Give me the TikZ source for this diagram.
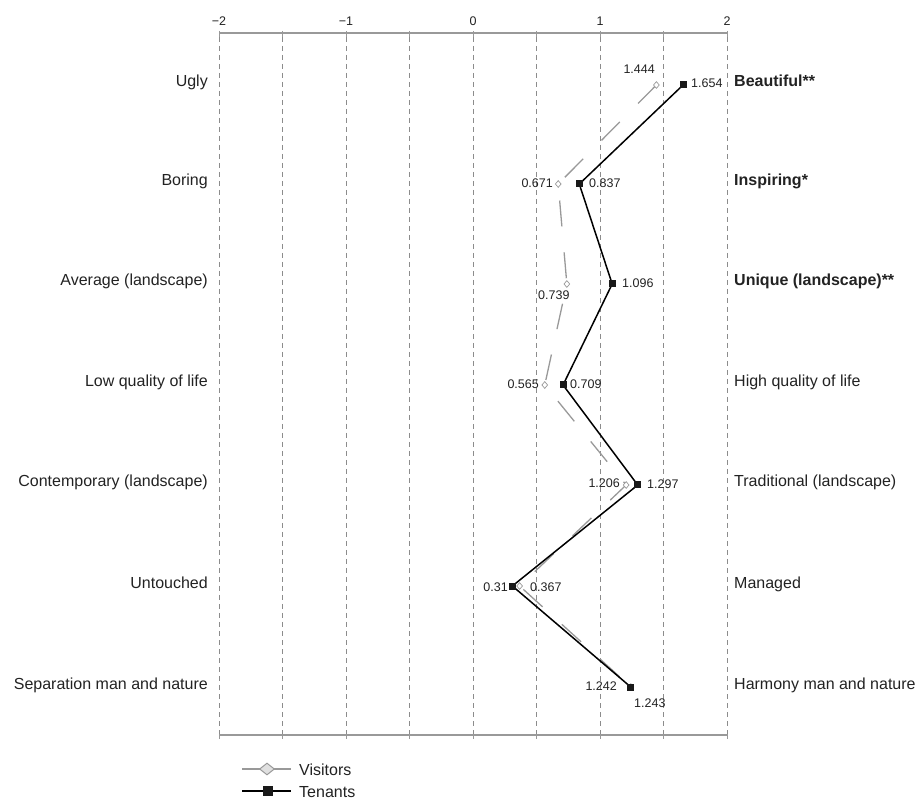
\documentclass[tikz,border=0pt]{standalone}
\usepackage{fontspec}
\setmainfont{Liberation Sans}
\usetikzlibrary{shapes.geometric}
\definecolor{txt}{HTML}{222222}
\definecolor{vis}{HTML}{999999}
\definecolor{grid}{HTML}{8C8C8C}
\begin{document}
\begin{tikzpicture}[x=1pt,y=-1pt,
  lab/.style={inner sep=0pt,text=txt,font=\fontsize{16}{19}\selectfont},
  blab/.style={lab,font=\fontsize{16}{19}\selectfont\bfseries},
  num/.style={inner sep=0pt,text=txt,font=\fontsize{12.5}{15}\selectfont},
  gridline/.style={draw=grid,line width=0.8pt,dash pattern=on 5pt off 4pt},
  axisline/.style={draw=vis,line width=1.1pt},
  visline/.style={draw=vis,line width=1.3pt,dash pattern=on 26pt off 26pt},
  tenline/.style={draw=black,line width=1.5pt},
  vmark/.style={diamond,draw=vis,fill=white,line width=0.7pt,inner sep=0pt,minimum width=6pt,minimum height=7pt},
  tmark/.style={rectangle,fill=black!90,inner sep=0pt,minimum size=7pt},
]
\useasboundingbox (0,0) rectangle (919,799);
% grid and axes
\foreach \i in {0,...,8}{
  \draw[gridline] ({219+63.5*\i},37) -- ({219+63.5*\i},734);
  \draw[axisline,line width=0.8pt] ({219+63.5*\i},31) -- ({219+63.5*\i},37);
  \draw[axisline,line width=0.8pt] ({219+63.5*\i},734) -- ({219+63.5*\i},739);
}
\draw[axisline] (219,33) -- (727,33);
\draw[axisline] (219,735) -- (727,735);
\foreach \v/\t in {-2/−2,-1/−1,0/0,1/1,2/2}
  \node[num,anchor=base] at ({473+127*\v},26) {\t};
% data coordinates
\foreach \k/\y/\tv/\vv in {1/85/1.654/1.444,2/184/0.837/0.671,3/284/1.096/0.739,4/385/0.709/0.565,5/485/1.297/1.206,6/586/0.31/0.367,7/687/1.242/1.243}{
  \coordinate (t\k) at ({473+127*\tv},\y);
  \coordinate (v\k) at ({473+127*\vv},\y);
}
% visitors
\draw[visline] (v1) -- (v2) -- (v3) -- (v4) -- (v5) -- (v6) -- (v7);
\foreach \k in {1,...,7} \node[vmark] (vm\k) at (v\k) {};
% tenants
\draw[tenline] (t1) -- (t2) -- (t3) -- (t4) -- (t5) -- (t6) -- (t7);
\foreach \k in {1,...,7} \node[tmark] (tm\k) at (t\k) {};
% left labels
\node[lab,anchor=base east] (l1) at (208,87) {Ugly};
\node[lab,anchor=base east] (l2) at (208,186) {Boring};
\node[lab,anchor=base east] (l3) at (208,286) {Average (landscape)};
\node[lab,anchor=base east] (l4) at (208,387) {Low quality of life};
\node[lab,anchor=base east] (l5) at (208,487) {Contemporary (landscape)};
\node[lab,anchor=base east] (l6) at (208,588) {Untouched};
\node[lab,anchor=base east] (l7) at (208,689) {Separation man and nature};
% right labels
\node[blab,anchor=base west] (r1) at (734,87) {Beautiful**};
\node[blab,anchor=base west] (r2) at (734,186) {Inspiring*};
\node[blab,anchor=base west] (r3) at (734,286) {Unique (landscape)**};
\node[lab,anchor=base west] (r4) at (734,387) {High quality of life};
\node[lab,anchor=base west] (r5) at (734,487) {Traditional (landscape)};
\node[lab,anchor=base west] (r6) at (734,588) {Managed};
\node[lab,anchor=base west] (r7) at (734,689) {Harmony man and nature};
% value labels
\node[num,anchor=base east] (n1v) at (655,74) {1.444};
\node[num,anchor=base west] (n1t) at (691,88) {1.654};
\node[num,anchor=base east] (n2v) at (553,188) {0.671};
\node[num,anchor=base west] (n2t) at (589,188) {0.837};
\node[num,anchor=base west] (n3v) at (538,300) {0.739};
\node[num,anchor=base west] (n3t) at (622,288) {1.096};
\node[num,anchor=base east] (n4v) at (539,389) {0.565};
\node[num,anchor=base west] (n4t) at (570,389) {0.709};
\node[num,anchor=base east] (n5v) at (620,488) {1.206};
\node[num,anchor=base west] (n5t) at (647,489) {1.297};
\node[num,anchor=base east] (n6t) at (508,591) {0.31};
\node[num,anchor=base west] (n6v) at (530,591) {0.367};
\node[num,anchor=base east] (n7t) at (617,690) {1.242};
\node[num,anchor=base west] (n7v) at (634,707) {1.243};
% legend
\coordinate (lv1) at (242,769); \coordinate (lv2) at (291,769);
\draw[draw=vis,line width=1.5pt] (lv1) -- (lv2);
\node[diamond,draw=vis,fill=black!12,line width=1pt,inner sep=0pt,minimum width=15pt,minimum height=12pt] (lgv) at (267,769) {};
\node[lab,anchor=base west] (lgvt) at (299,775) {Visitors};
\coordinate (lt1) at (242,791); \coordinate (lt2) at (291,791);
\draw[draw=black,line width=1.6pt] (lt1) -- (lt2);
\node[rectangle,fill=black!90,inner sep=0pt,minimum size=10pt] (lgt) at (268,791) {};
\node[lab,anchor=base west] (lgtt) at (299,797) {Tenants};
\end{tikzpicture}
\end{document}
